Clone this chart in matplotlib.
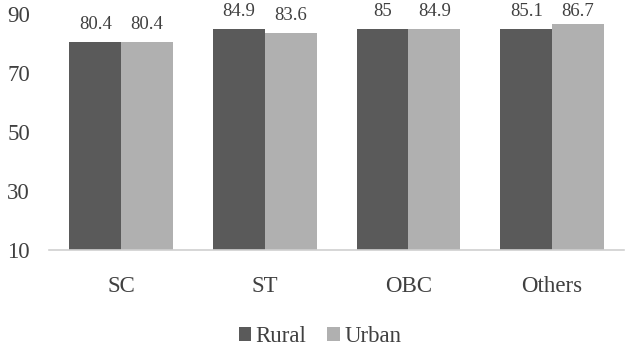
import numpy as np
import matplotlib
matplotlib.use("Agg")
import matplotlib.pyplot as plt
from matplotlib.transforms import blended_transform_factory

plt.rcParams["font.family"] = ["Liberation Serif", "DejaVu Serif"]

CATEGORIES = ["SC", "ST", "OBC", "Others"]
RURAL = [80.4, 84.9, 85.0, 85.1]
URBAN = [80.4, 83.6, 84.9, 86.7]
RURAL_LABELS = ["80.4", "84.9", "85", "85.1"]
URBAN_LABELS = ["80.4", "83.6", "84.9", "86.7"]
Y_TICKS = [10, 30, 50, 70, 90]

DARK = "#5a5a5a"
LIGHT = "#b0b0b0"
TEXT = "#404040"

FIG_W, FIG_H = 640, 363
AX_RECT = [0.077, 0.311, 0.898, 0.65]
Y_MIN, Y_MAX = 10, 90


def main():
    fig = plt.figure(figsize=(FIG_W / 100, FIG_H / 100), dpi=100)
    ax = fig.add_axes(AX_RECT)

    x = np.arange(len(CATEGORIES))
    width = 0.36
    rural_bars = ax.bar(x - width / 2, np.array(RURAL) - Y_MIN, width, bottom=Y_MIN,
                        color=DARK, label="Rural")
    urban_bars = ax.bar(x + width / 2, np.array(URBAN) - Y_MIN, width, bottom=Y_MIN,
                        color=LIGHT, label="Urban")

    # value labels sit ~18px above the bar, but get pushed down near the top edge
    trans = blended_transform_factory(ax.transData, fig.transFigure)
    for bars, vals, labels in ((rural_bars, RURAL, RURAL_LABELS), (urban_bars, URBAN, URBAN_LABELS)):
        for bar, val, lab in zip(bars, vals, labels):
            y_fig = AX_RECT[1] + AX_RECT[3] * (val - Y_MIN) / (Y_MAX - Y_MIN) + 18 / FIG_H
            y_fig = min(y_fig, 1 - 11 / FIG_H)
            ax.text(bar.get_x() + bar.get_width() / 2, y_fig, lab, transform=trans,
                    ha="center", va="center", fontsize=13.5, color=TEXT, clip_on=False)

    ax.set_xlim(-0.5, 3.5)
    ax.set_ylim(Y_MIN, Y_MAX)
    ax.set_yticks(Y_TICKS)
    ax.set_yticklabels([str(t) for t in Y_TICKS], fontsize=16.5, color=TEXT)
    ax.set_xticks(x)
    ax.set_xticklabels(CATEGORIES, fontsize=16.5, color=TEXT)
    ax.tick_params(axis="both", length=0)
    ax.tick_params(axis="x", pad=19)
    ax.tick_params(axis="y", pad=14)

    for side in ("top", "right", "left"):
        ax.spines[side].set_visible(False)
    ax.spines["bottom"].set_color("#d0d0d0")
    ax.spines["bottom"].set_linewidth(1.2)

    fig.legend(loc="center", bbox_to_anchor=(0.5, 0.072), ncol=2, frameon=False,
               fontsize=16.5, handlelength=0.55, handleheight=0.55, handletextpad=0.2,
               columnspacing=0.9, labelcolor=TEXT)

    fig.savefig("out.png", dpi=100)
    plt.close(fig)


if __name__ == "__main__":
    main()
